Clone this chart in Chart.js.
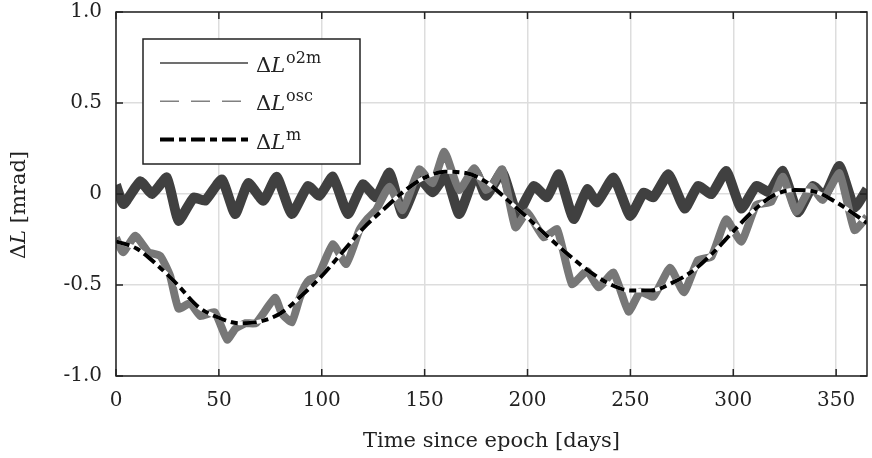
<!DOCTYPE html>
<html>
<head>
<meta charset="utf-8">
<script src="https://cdn.jsdelivr.net/npm/chart.js"></script>
<style>
  html, body { margin: 0; padding: 0; background: #fff; }
  #wrap { width: 872px; height: 458px; position: relative; }
</style>
</head>
<body>
<div id="wrap"><canvas id="chart" width="872" height="458"></canvas></div>
<script>
// ΔL^o2m : centre of the dark band (days, mrad)
var o2mDays = [0, 3.7, 11.8, 17.5, 24.7, 30.4, 37.7, 43.3, 51.4, 57.9, 64.3, 71.6, 78.1, 85.4,
    93.3, 98.9, 105.4, 112.7, 120, 126.4, 132.9, 139.3, 147.4, 153.9, 160.4, 166.8, 174.9, 179.8,
    187.7, 195, 203, 209.5, 215.2, 222.4, 229, 233.8, 241.8, 249.9, 256.4, 261.2, 268.5, 276.4,
    282.9, 289.4, 296.6, 303.9, 311.2, 317.6, 324.1, 331.4, 338.7, 344.3, 351.6, 358.9, 365];
var o2mValues = [0.05, -0.055, 0.07, 0.0, 0.09, -0.147, -0.02, -0.037, 0.08, -0.11, 0.06, -0.037, 0.095, -0.11,
    0.044, -0.01, 0.095, -0.11, 0.053, -0.018, 0.117, -0.11, 0.085, 0.01, 0.1, -0.11, 0.115, -0.01,
    0.12, -0.11, 0.044, -0.018, 0.108, -0.137, 0.026, -0.046, 0.09, -0.12, 0.007, -0.018, 0.108, -0.08,
    0.044, 0.0, 0.126, -0.08, 0.044, 0.01, 0.126, -0.1, 0.044, -0.01, 0.154, -0.073, 0.026];

// ΔL^osc : centre of the grey band
var oscDays = [0, 3.4, 9.4, 15.8, 21.5, 26.3, 30.4, 36, 41, 48, 54, 58, 63, 68, 77.3, 80.5, 85.4,
    89.2, 91.8, 94.1, 98.1, 105.4, 111.9, 118.3, 122.4, 126.4, 132.9, 139.3, 147.4, 153.9, 159.6,
    166.8, 174.1, 179.8, 183, 187.7, 194.1, 199.8, 207.9, 214.4, 221.6, 228.9, 234.6, 241.8, 249.1,
    254.8, 261.2, 269.3, 276, 282.9, 289.4, 296.6, 303.9, 311.2, 318.5, 324.1, 330.6, 337.9, 343.5,
    351.6, 358.9, 365];
var oscValues = [-0.24, -0.32, -0.23, -0.32, -0.34, -0.45, -0.63, -0.6, -0.67, -0.65, -0.8, -0.74, -0.71, -0.71, -0.57, -0.655, -0.705,
    -0.573, -0.505, -0.47, -0.454, -0.276, -0.385, -0.198, -0.134, -0.088, 0.04, -0.088, 0.136, 0.059, 0.232,
    0.022, 0.141, 0.022, 0.05, 0.136, -0.183, -0.1, -0.238, -0.194, -0.495, -0.423, -0.513, -0.432, -0.646,
    -0.537, -0.564, -0.405, -0.54, -0.363, -0.344, -0.139, -0.262, -0.06, -0.042, 0.095, -0.097, 0.04, -0.033,
    0.114, -0.198, -0.125];

// ΔL^m : smooth mean
var mDays = [0, 10, 20, 30, 40, 50, 60, 70, 80, 90, 100, 110, 120, 130, 140, 150, 160, 170, 180,
    190, 200, 210, 220, 230, 240, 250, 260, 270, 280, 290, 300, 310, 320, 330, 340, 350, 360, 365];
var mValues = [-0.26, -0.3, -0.39, -0.5, -0.62, -0.68, -0.71, -0.7, -0.655, -0.56, -0.45, -0.32, -0.19, -0.085, 0.015, 0.09, 0.122, 0.115, 0.065,
    -0.03, -0.13, -0.235, -0.335, -0.425, -0.495, -0.53, -0.53, -0.49, -0.425, -0.325, -0.205, -0.09, -0.005, 0.022, 0.012, -0.045, -0.12, -0.16];

var yTickValues = [-1, -0.5, 0, 0.5, 1];
var yTickLabels = ['-1.0', '-0.5', '0', '0.5', '1.0'];

var seriesSups = ['o2m', 'osc', 'm'];

var FONT = '"DejaVu Serif", "Liberation Serif", serif';
var INK = '#222222';
var DASHDOT = [14, 5, 7, 5];

function pairs(xs, ys) {
    return xs.map(function (x, i) { return { x: x, y: ys[i] }; });
}

// width of "ΔL" with italic L
function deltaLWidth(ctx) {
    ctx.font = '21px ' + FONT;
    var w = ctx.measureText('Δ').width;
    ctx.font = 'italic 21px ' + FONT;
    return w + ctx.measureText('L').width;
}

// draws "ΔL" with italic L and an optional superscript
function drawDeltaL(ctx, x, y, sup) {
    ctx.font = '21px ' + FONT;
    ctx.fillText('Δ', x, y);
    var w = ctx.measureText('Δ').width;
    ctx.font = 'italic 21px ' + FONT;
    ctx.fillText('L', x + w, y);
    w += ctx.measureText('L').width;
    if (sup) {
        ctx.font = '16px ' + FONT;
        ctx.fillText(sup, x + w + 1, y - 9);
    }
}

var framePlugin = {
    id: 'frame',
    afterDatasetsDraw: function (chart) {
        var ctx = chart.ctx;
        var a = chart.chartArea;
        var xs = chart.scales.x, ys = chart.scales.y;
        ctx.save();

        // box and inward ticks
        ctx.strokeStyle = INK;
        ctx.lineWidth = 1.5;
        ctx.strokeRect(a.left, a.top, a.right - a.left, a.bottom - a.top);
        ctx.beginPath();
        xs.ticks.forEach(function (t) {
            var px = xs.getPixelForValue(t.value);
            ctx.moveTo(px, a.bottom); ctx.lineTo(px, a.bottom - 7);
            ctx.moveTo(px, a.top); ctx.lineTo(px, a.top + 7);
        });
        ys.ticks.forEach(function (t) {
            var py = ys.getPixelForValue(t.value);
            ctx.moveTo(a.left, py); ctx.lineTo(a.left + 7, py);
            ctx.moveTo(a.right, py); ctx.lineTo(a.right - 7, py);
        });
        ctx.stroke();

        // legend
        var bx = 143, by = 39, bw = 217, bh = 125;
        ctx.fillStyle = '#ffffff';
        ctx.fillRect(bx, by, bw, bh);
        ctx.strokeRect(bx, by, bw, bh);
        var styles = [
            { color: '#404040', width: 1.5, dash: [] },
            { color: '#808080', width: 1.5, dash: [19, 12] },
            { color: '#000000', width: 4, dash: DASHDOT }
        ];
        for (var i = 0; i < 3; i++) {
            var base = 72 + i * 38.3;
            var ly = base - 9;
            ctx.beginPath();
            ctx.strokeStyle = styles[i].color;
            ctx.lineWidth = styles[i].width;
            ctx.setLineDash(styles[i].dash);
            ctx.moveTo(160, ly);
            ctx.lineTo(248, ly);
            ctx.stroke();
            ctx.setLineDash([]);
            ctx.fillStyle = INK;
            ctx.textBaseline = 'alphabetic';
            ctx.textAlign = 'left';
            drawDeltaL(ctx, 256, base, seriesSups[i]);
        }

        // y axis title
        ctx.translate(20, 205);
        ctx.rotate(-Math.PI / 2);
        ctx.fillStyle = INK;
        ctx.textBaseline = 'middle';
        ctx.textAlign = 'left';
        var dw = deltaLWidth(ctx);
        ctx.font = '21px ' + FONT;
        var sx = -(dw + ctx.measureText(' [mrad]').width) / 2;
        drawDeltaL(ctx, sx, 0, '');
        ctx.font = '21px ' + FONT;
        ctx.fillText(' [mrad]', sx + dw, 0);

        ctx.restore();
    }
};

new Chart(document.getElementById('chart'), {
    type: 'line',
    data: {
        datasets: [
            {
                label: 'ΔL m',
                data: pairs(mDays, mValues),
                borderColor: '#000000',
                borderWidth: 4,
                borderDash: DASHDOT,
                borderCapStyle: 'butt',
                cubicInterpolationMode: 'monotone',
                pointRadius: 0
            },
            {
                label: 'm underlay',
                data: pairs(mDays, mValues),
                borderColor: '#ffffff',
                borderWidth: 4,
                cubicInterpolationMode: 'monotone',
                pointRadius: 0
            },
            {
                label: 'ΔL osc',
                data: pairs(oscDays, oscValues),
                borderColor: '#777777',
                borderWidth: 8,
                borderJoinStyle: 'round',
                tension: 0.15,
                pointRadius: 0
            },
            {
                label: 'ΔL o2m',
                data: pairs(o2mDays, o2mValues),
                borderColor: '#404040',
                borderWidth: 10,
                borderJoinStyle: 'round',
                tension: 0.15,
                pointRadius: 0
            }
        ]
    },
    options: {
        responsive: false,
        devicePixelRatio: 1,
        animation: false,
        layout: { padding: { left: 0, right: 5, top: 12, bottom: 0 } },
        plugins: {
            legend: { display: false },
            tooltip: { enabled: false }
        },
        scales: {
            x: {
                type: 'linear',
                min: 0,
                max: 365,
                ticks: {
                    stepSize: 50,
                    includeBounds: false,
                    maxRotation: 0,
                    padding: 13,
                    color: INK,
                    font: { family: FONT, size: 20 }
                },
                grid: { color: '#dddddd', lineWidth: 1.5, drawTicks: false },
                border: { display: false },
                title: {
                    display: true,
                    text: 'Time since epoch [days]',
                    color: INK,
                    font: { family: FONT, size: 21 },
                    padding: { top: 0, bottom: 4 }
                },
                afterFit: function (s) {
                    s.height = 82;
                    s.paddingLeft = 0;
                    s.paddingRight = 0;
                }
            },
            y: {
                min: -1,
                max: 1,
                ticks: {
                    stepSize: 0.5,
                    padding: 14,
                    color: INK,
                    font: { family: FONT, size: 20 },
                    callback: function (v) {
                        var i = yTickValues.indexOf(v);
                        return i >= 0 ? yTickLabels[i] : '';
                    }
                },
                grid: { color: '#dddddd', lineWidth: 1.5, drawTicks: false },
                border: { display: false },
                afterFit: function (s) {
                    s.width = 116;
                    s.paddingTop = 0;
                    s.paddingBottom = 0;
                }
            }
        }
    },
    plugins: [framePlugin]
});
</script>
</body>
</html>
